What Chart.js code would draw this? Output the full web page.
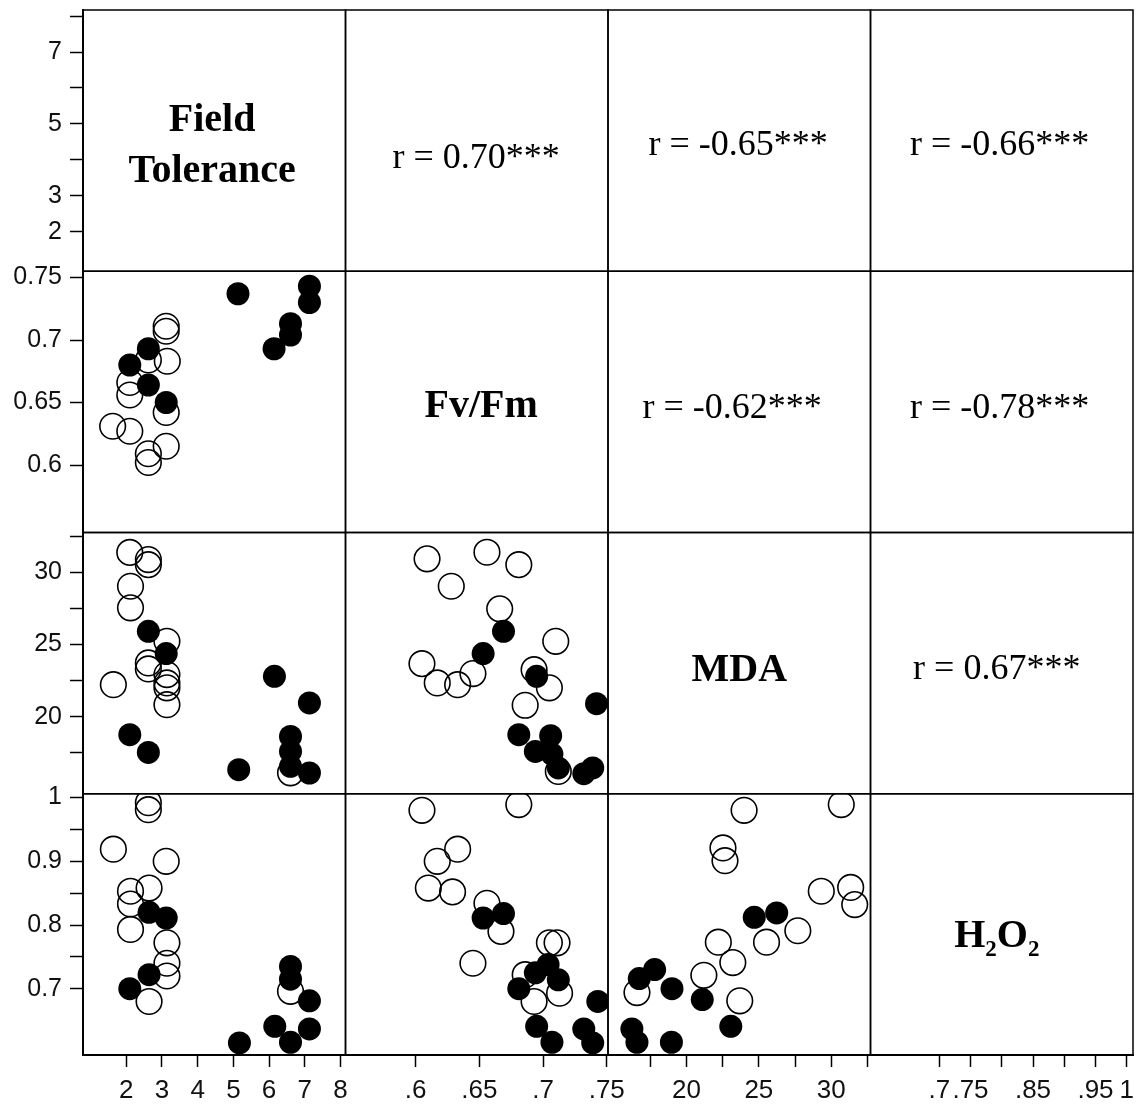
<!DOCTYPE html>
<html><head><meta charset="utf-8">
<script src="https://cdn.jsdelivr.net/npm/chart.js@4.4.1/dist/chart.umd.min.js"></script>
<style>html,body{margin:0;padding:0;background:#fff;}</style>
</head><body>
<canvas id="c" width="1138" height="1107"></canvas>
<script>
// ---- variable names and correlations ----
const varNames = ['Field Tolerance', 'Fv/Fm', 'MDA', 'H2O2'];
const rFieldTol = [0.70, -0.65, -0.66];   // with Fv/Fm, MDA, H2O2
const rFvFm = [-0.62, -0.78];             // with MDA, H2O2
const rMDA = [0.67];                      // with H2O2
const signif = '***';

// ---- tick values and labels ----
const ftTicks = [2, 3, 4, 5, 6, 7, 8];
const ftXLabels = ['2', '3', '4', '5', '6', '7', '8'];
const ftYLabels = ['2', '3', '', '5', '', '7', ''];
const fvTicks = [0.6, 0.65, 0.7, 0.75];
const fvXLabels = ['.6', '.65', '.7', '.75'];
const fvYLabels = ['0.6', '0.65', '0.7', '0.75'];
const mdaTicks = [17.5, 20, 22.5, 25, 27.5, 30, 32.5];
const mdaXLabels = ['', '20', '', '25', '', '30', ''];
const mdaYLabels = ['', '20', '', '25', '', '30', ''];
const h2Ticks = [0.7, 0.75, 0.8, 0.85, 0.9, 0.95, 1];
const h2XLabels = ['.7', '.75', '', '.85', '', '.95', '1'];
const h2YLabels = ['0.7', '', '0.8', '', '0.9', '', '1'];

// ---- scatter data per panel: [x, y] ----
// Fv/Fm (y) vs Field Tolerance (x)
const fvVsFtOpen = [[3.12,0.711],[3.12,0.707],[2.62,0.684],[3.15,0.683],[2.1,0.666],[2.1,0.656],[3.12,0.642],[1.62,0.631],[2.1,0.627],[3.12,0.615],[2.62,0.609],[2.62,0.602]];
const fvVsFtFilled = [[2.62,0.693],[2.1,0.680],[2.62,0.664],[3.12,0.650],[5.13,0.737],[7.13,0.743],[7.13,0.730],[6.6,0.713],[6.6,0.704],[6.14,0.693]];
// MDA (y) vs Field Tolerance (x)
const mdaVsFtOpen = [[2.1,31.4],[2.62,30.9],[2.62,30.55],[2.12,29.05],[2.12,27.55],[3.14,25.23],[2.62,23.73],[2.62,23.31],[3.14,22.92],[3.14,22.34],[3.14,22.0],[3.14,20.83],[1.64,22.22],[6.6,16.1]];
const mdaVsFtFilled = [[2.62,25.92],[3.12,24.38],[6.15,22.8],[7.13,20.95],[2.1,18.75],[2.62,17.52],[6.6,18.63],[6.6,17.59],[6.6,16.55],[7.13,16.09],[5.15,16.32]];
// MDA (y) vs Fv/Fm (x)
const mdaVsFvOpen = [[0.609,30.95],[0.656,31.41],[0.681,30.55],[0.628,29.05],[0.666,27.48],[0.710,25.23],[0.605,23.68],[0.617,22.34],[0.633,22.22],[0.645,22.99],[0.693,23.26],[0.705,22.0],[0.686,20.79],[0.712,16.2]];
const mdaVsFvFilled = [[0.669,25.92],[0.653,24.38],[0.695,22.8],[0.742,20.9],[0.681,18.75],[0.706,18.68],[0.694,17.59],[0.707,17.4],[0.712,16.44],[0.732,16.04],[0.739,16.44]];
// H2O2 (y) vs Field Tolerance (x)
const h2VsFtOpen = [[2.62,0.992],[2.62,0.981],[1.64,0.919],[3.12,0.900],[2.12,0.853],[2.64,0.858],[2.12,0.833],[2.12,0.793],[3.14,0.772],[3.14,0.740],[3.14,0.720],[2.64,0.680],[6.6,0.696]];
const h2VsFtFilled = [[2.64,0.820],[3.12,0.811],[2.64,0.722],[2.1,0.700],[6.6,0.735],[6.6,0.715],[7.13,0.681],[6.16,0.641],[7.13,0.637],[6.6,0.616],[5.17,0.615]];
// H2O2 (y) vs Fv/Fm (x)
const h2VsFvOpen = [[0.605,0.980],[0.681,0.989],[0.633,0.919],[0.617,0.900],[0.610,0.858],[0.629,0.852],[0.656,0.834],[0.667,0.790],[0.645,0.740],[0.705,0.772],[0.711,0.772],[0.686,0.722],[0.693,0.680],[0.713,0.693]];
const h2VsFvFilled = [[0.653,0.811],[0.669,0.818],[0.694,0.725],[0.704,0.738],[0.712,0.714],[0.681,0.700],[0.743,0.680],[0.695,0.641],[0.707,0.616],[0.732,0.637],[0.739,0.615]];
// H2O2 (y) vs MDA (x)
const h2VsMdaOpen = [[23.98,0.980],[30.69,0.989],[22.52,0.921],[22.66,0.901],[29.31,0.853],[31.34,0.859],[31.62,0.832],[27.69,0.791],[22.2,0.773],[25.53,0.773],[23.2,0.741],[21.2,0.721],[23.68,0.681],[16.58,0.694]];
const h2VsMdaFilled = [[24.68,0.812],[26.23,0.819],[17.8,0.730],[16.74,0.716],[19.0,0.700],[21.09,0.683],[23.06,0.641],[16.23,0.637],[16.58,0.616],[18.96,0.616]];

// ---- build chart ----
const pts = a => a.map(([x, y]) => ({x, y}));
function ds(arr, filled, xID, yID) {
  return {
    data: pts(arr), xAxisID: xID, yAxisID: yID, order: filled ? 0 : 1,
    showLine: false, pointStyle: 'circle',
    pointRadius: filled ? 11.5 : 12.8, pointHoverRadius: filled ? 11.5 : 12.8,
    backgroundColor: filled ? '#000' : 'rgba(0,0,0,0)',
    borderColor: '#000', borderWidth: filled ? 0 : 1.6, pointBorderWidth: filled ? 0 : 1.6
  };
}
function axis(pos, min, max, ticks, labels) {
  const left = pos === 'left';
  return {
    type: 'linear', position: pos, stack: left ? 'rows' : 'cols', stackWeight: 1,
    min, max, offset: false,
    afterBuildTicks: s => { s.ticks = ticks.map(v => ({value: v})); },
    afterFit: s => {
      if (left) s.width = 78; else s.height = 49;
      s.paddingTop = 0; s.paddingBottom = 0; s.paddingLeft = 0; s.paddingRight = 0;
    },
    ticks: {
      autoSkip: false, maxRotation: 0, minRotation: 0, padding: left ? 8 : 8,
      color: '#111', font: {family: "'Liberation Sans', Arial, sans-serif", size: left ? 25 : 26},
      callback: (v, i) => labels[i]
    },
    grid: {drawOnChartArea: false, drawTicks: true, tickLength: left ? 13 : 12, tickWidth: 1.5, tickColor: '#000'},
    border: {display: true, color: '#000', width: 2}
  };
}

const xKeys = ['xFT', 'xFv', 'xMDA', 'xH2'];
const yKeys = ['yFT', 'yFv', 'yMDA', 'yH2'];

const serif = "'Liberation Serif', 'Times New Roman', serif";
const panelPlugin = {
  id: 'panels',
  afterDatasetsDraw(chart) {
    const ctx = chart.ctx;
    const xs = xKeys.map(k => chart.scales[k]);
    const ys = yKeys.map(k => chart.scales[k]);
    ctx.save();
    ctx.strokeStyle = '#000';
    ctx.lineWidth = 1.5;
    for (let r = 0; r < 4; r++) for (let c = 0; c < 4; c++) {
      ctx.strokeRect(xs[c].left, ys[r].top, xs[c].right - xs[c].left, ys[r].bottom - ys[r].top);
    }
    ctx.fillStyle = '#000';
    ctx.textAlign = 'center';
    ctx.textBaseline = 'alphabetic';
    const at = (c, r, fx, fy) => [xs[c].left + fx * (xs[c].right - xs[c].left), ys[r].top + fy * (ys[r].bottom - ys[r].top)];
    const put = (str, c, r, fx, fy, font) => { const [x, y] = at(c, r, fx, fy); ctx.font = font; ctx.fillText(str, x, y); };
    const bold = 'bold 40px ' + serif;
    const reg = '36px ' + serif;
    const rTxt = v => 'r = ' + v.toFixed(2) + signif;
    // diagonal labels
    const ftWords = varNames[0].split(' ');
    put(ftWords[0], 0, 0, 0.492, 0.464, bold);
    put(ftWords[1], 0, 0, 0.492, 0.659, bold);
    put(varNames[1], 1, 1, 0.517, 0.557, bold);
    put(varNames[2], 2, 2, 0.50, 0.567, bold);
    // H2O2 with subscripts
    {
      const [cx, cy] = at(3, 3, 0.481, 0.586);
      const big = bold, small = 'bold 23px ' + serif;
      const parts = [['H', big, 0], ['2', small, 9], ['O', big, 0], ['2', small, 9]];
      let total = 0;
      parts.forEach(p => { ctx.font = p[1]; p.push(ctx.measureText(p[0]).width); total += p[3]; });
      let x = cx - total / 2;
      ctx.textAlign = 'left';
      parts.forEach(p => { ctx.font = p[1]; ctx.fillText(p[0], x, cy + p[2]); x += p[3]; });
      ctx.textAlign = 'center';
    }
    // correlations (upper triangle)
    put(rTxt(rFieldTol[0]), 1, 0, 0.498, 0.605, reg);
    put(rTxt(rFieldTol[1]), 2, 0, 0.496, 0.556, reg);
    put(rTxt(rFieldTol[2]), 3, 0, 0.492, 0.556, reg);
    put(rTxt(rFvFm[0]), 2, 1, 0.473, 0.561, reg);
    put(rTxt(rFvFm[1]), 3, 1, 0.492, 0.561, reg);
    put(rTxt(rMDA[0]), 3, 2, 0.481, 0.560, reg);
    ctx.restore();
  }
};

new Chart(document.getElementById('c'), {
  type: 'scatter',
  data: {
    datasets: [
      ds(fvVsFtFilled, true, 'xFT', 'yFv'), ds(fvVsFtOpen, false, 'xFT', 'yFv'),
      ds(mdaVsFtFilled, true, 'xFT', 'yMDA'), ds(mdaVsFtOpen, false, 'xFT', 'yMDA'),
      ds(mdaVsFvFilled, true, 'xFv', 'yMDA'), ds(mdaVsFvOpen, false, 'xFv', 'yMDA'),
      ds(h2VsFtFilled, true, 'xFT', 'yH2'), ds(h2VsFtOpen, false, 'xFT', 'yH2'),
      ds(h2VsFvFilled, true, 'xFv', 'yH2'), ds(h2VsFvOpen, false, 'xFv', 'yH2'),
      ds(h2VsMdaFilled, true, 'xMDA', 'yH2'), ds(h2VsMdaOpen, false, 'xMDA', 'yH2')
    ]
  },
  options: {
    responsive: false, animation: false, events: [],
    layout: {autoPadding: false, padding: {left: 5, right: 5, top: 10, bottom: 3}},
    plugins: {legend: {display: false}, tooltip: {enabled: false}},
    scales: {
      yH2: axis('left', 0.596, 1.006, h2Ticks, h2YLabels),
      yMDA: axis('left', 14.65, 32.78, mdaTicks, mdaYLabels),
      yFv: axis('left', 0.546, 0.755, fvTicks, fvYLabels),
      yFT: axis('left', 0.9, 8.17, ftTicks, ftYLabels),
      xFT: axis('bottom', 0.79, 8.14, ftTicks, ftXLabels),
      xFv: axis('bottom', 0.545, 0.751, fvTicks, fvXLabels),
      xMDA: axis('bottom', 14.58, 32.71, mdaTicks, mdaXLabels),
      xH2: axis('bottom', 0.59, 1.01, h2Ticks, h2XLabels)
    }
  },
  plugins: [panelPlugin]
});
</script>
</body></html>
